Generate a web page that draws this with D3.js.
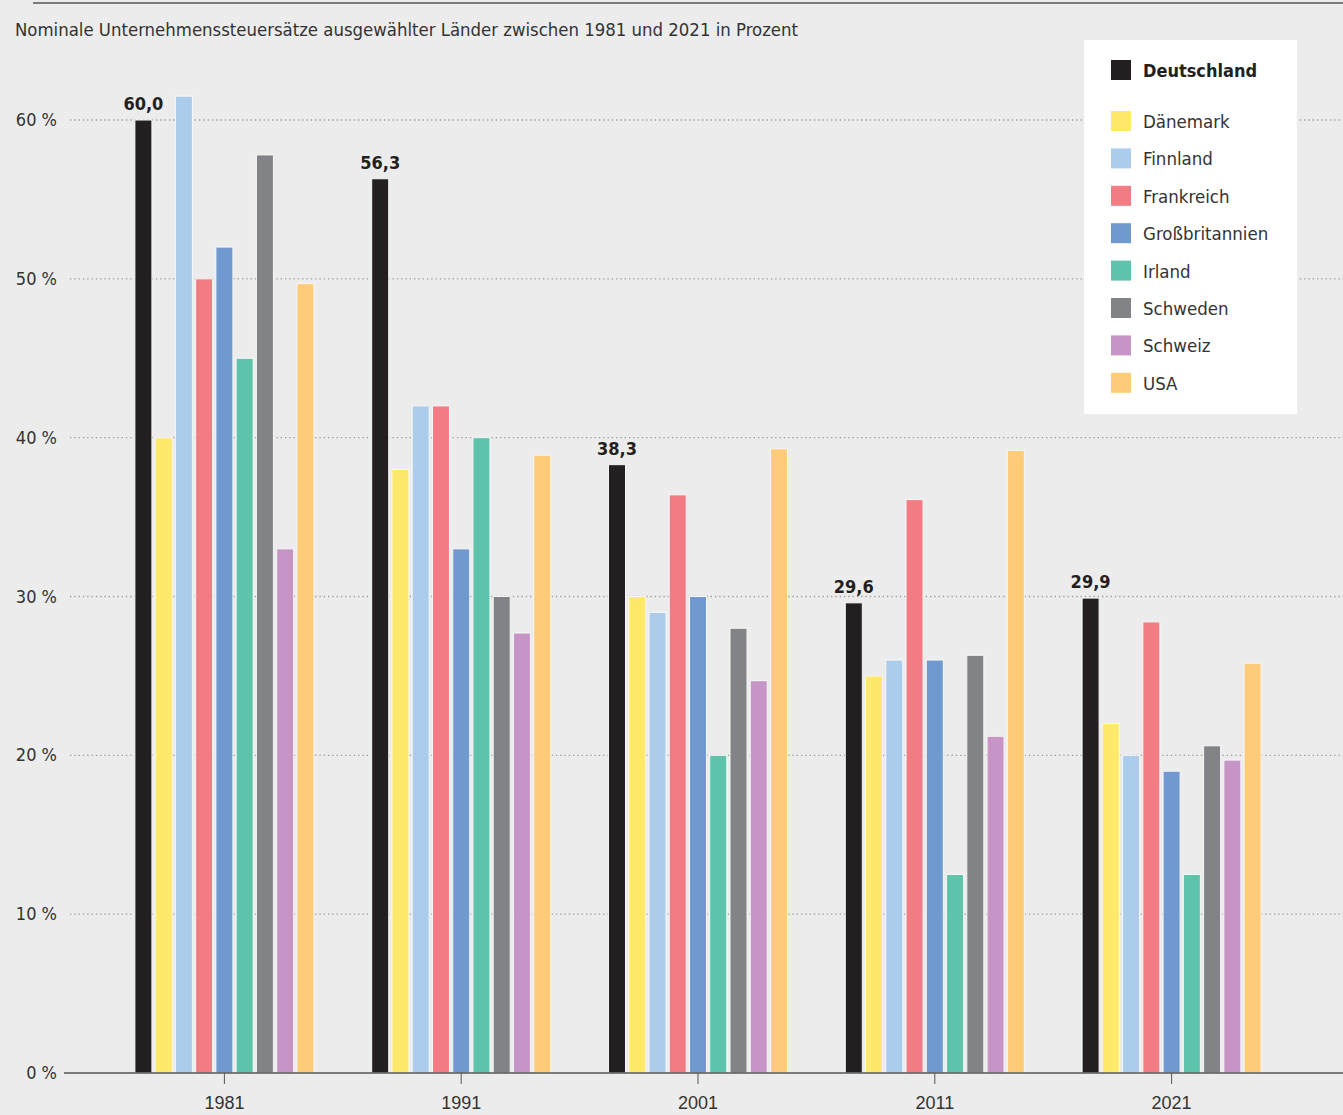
<!DOCTYPE html>
<html>
<head>
<meta charset="utf-8">
<script src="https://cdn.jsdelivr.net/npm/d3@7"></script>
<style>
  body { margin: 0; background: #ececec; }
  svg { display: block; font-family: "DejaVu Sans Condensed", "DejaVu Sans", sans-serif; }
</style>
</head>
<body>
<script>
const w = 1343,
  h = 1115;

const years = ['1981', '1991', '2001', '2011', '2021'];
const countries = ['Deutschland', 'Dänemark', 'Finnland', 'Frankreich', 'Großbritannien', 'Irland', 'Schweden', 'Schweiz', 'USA'];
const colors = ['#231f20', '#ffe96a', '#abcdeb', '#f37b84', '#709acf', '#5dc3ab', '#828386', '#c795c5', '#fecb78'];

// one array per country, values for 1981..2021
const deutschland = [60.0, 56.3, 38.3, 29.6, 29.9];
const daenemark = [40, 38, 30, 25, 22];
const finnland = [61.5, 42, 29, 26, 20];
const frankreich = [50, 42, 36.4, 36.1, 28.4];
const grossbritannien = [52, 33, 30, 26, 19];
const irland = [45, 40, 20, 12.5, 12.5];
const schweden = [57.8, 30, 28, 26.3, 20.6];
const schweiz = [33, 27.7, 24.7, 21.2, 19.7];
const usa = [49.7, 38.9, 39.3, 39.2, 25.8];

const series = [deutschland, daenemark, finnland, frankreich, grossbritannien, irland, schweden, schweiz, usa];
const yTicks = [0, 10, 20, 30, 40, 50, 60];

const svg = d3.select('body').append('svg').attr('width', w).attr('height', h);

// top rule
svg.append('line')
  .attr('x1', 33).attr('x2', w).attr('y1', 3).attr('y2', 3)
  .attr('stroke', '#555').attr('stroke-width', 1.5);

svg.append('text')
  .attr('x', 15).attr('y', 36)
  .attr('fill', '#333')
  .style('font-size', '18.4px')
  .text('Nominale Unternehmenssteuersätze ausgewählter Länder zwischen 1981 und 2021 in Prozent');

const y = d3.scaleLinear().domain([0, 60]).range([1073, 120]);

const x0 = d3.scaleBand().domain(years).range([106, 1290]).paddingInner(0.244).paddingOuter(0.122);
const x1 = d3.scaleBand().domain(countries).range([0, x0.bandwidth()]).paddingInner(0.16);

// gridlines
const grid = svg.append('g');
grid.selectAll('line')
  .data(yTicks.filter(d => d > 0))
  .enter()
  .append('line')
  .attr('x1', 70).attr('x2', w)
  .attr('y1', d => y(d)).attr('y2', d => y(d))
  .attr('stroke', '#999')
  .attr('stroke-width', 1.3)
  .attr('stroke-dasharray', '1.3,3');

// y labels
svg.append('g')
  .selectAll('text')
  .data(yTicks)
  .enter()
  .append('text')
  .attr('x', 57)
  .attr('y', d => y(d) + 6)
  .attr('text-anchor', 'end')
  .attr('fill', '#333')
  .style('font-size', '18px')
  .text(d => d + ' %');

// bars
const groups = svg.append('g')
  .selectAll('g')
  .data(years)
  .enter()
  .append('g')
  .attr('transform', d => `translate(${x0(d)},0)`);

groups.selectAll('rect')
  .data((yr, yi) => countries.map((c, ci) => ({ c, ci, v: series[ci][yi] })))
  .enter()
  .append('rect')
  .attr('x', d => x1(d.c))
  .attr('width', x1.bandwidth())
  .attr('y', d => y(d.v))
  .attr('height', d => y(0) - y(d.v))
  .attr('fill', d => colors[d.ci])
  .attr('stroke', '#f7f7f7')
  .attr('stroke-width', 1);

// labels for Deutschland
groups.append('text')
  .attr('x', x1('Deutschland') + x1.bandwidth() / 2)
  .attr('y', (yr, yi) => y(deutschland[yi]) - 10)
  .attr('text-anchor', 'middle')
  .attr('fill', '#231f20')
  .style('font-size', '18px')
  .style('font-weight', 'bold')
  .text((yr, yi) => deutschland[yi].toFixed(1).replace('.', ','));

// x axis
const xAxis = d3.axisBottom(x0).tickSize(11).tickPadding(12);
const xg = svg.append('g')
  .attr('transform', `translate(0, ${y(0)})`)
  .call(xAxis);
xg.select('.domain').remove();
xg.selectAll('line').attr('stroke', '#555');
xg.selectAll('text').attr('fill', '#333').style('font-size', '18px').style('font-family', 'inherit');

svg.append('line')
  .attr('x1', 64).attr('x2', w)
  .attr('y1', y(0)).attr('y2', y(0))
  .attr('stroke', '#555').attr('stroke-width', 1.5);

// legend
const legend = svg.append('g');
legend.append('rect')
  .attr('x', 1084).attr('y', 40).attr('width', 213).attr('height', 374)
  .attr('fill', '#fff');

const ly = c => (c === 'Deutschland' ? 70 : 121 + (countries.indexOf(c) - 1) * 37.4);
const items = legend.selectAll('g.item')
  .data(countries)
  .enter()
  .append('g')
  .attr('class', 'item')
  .attr('transform', d => `translate(1111, ${ly(d)})`);
items.append('rect')
  .attr('x', 0).attr('y', -10).attr('width', 20).attr('height', 20)
  .attr('fill', (d, i) => colors[i]);
items.append('text')
  .attr('x', 32).attr('y', 7)
  .attr('fill', (d, i) => (i === 0 ? '#231f20' : '#333'))
  .style('font-size', (d, i) => (i === 0 ? '18px' : '18.5px'))
  .style('font-weight', (d, i) => (i === 0 ? 'bold' : 'normal'))
  .text(d => d);
</script>
</body>
</html>
